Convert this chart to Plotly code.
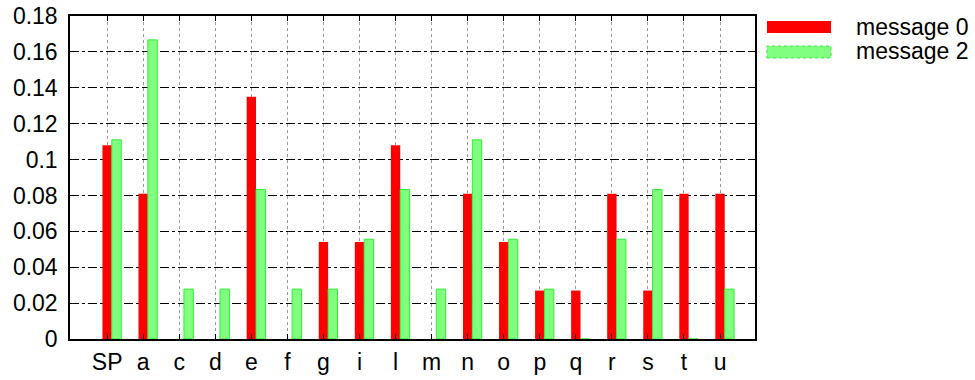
import plotly.graph_objects as go

# Letter frequencies for two messages
letters = ["SP", "a", "c", "d", "e", "f", "g", "i", "l", "m",
           "n", "o", "p", "q", "r", "s", "t", "u"]
message0 = [0.108, 0.081, 0.0, 0.0, 0.135, 0.0, 0.054, 0.054, 0.108, 0.0,
            0.081, 0.054, 0.027, 0.027, 0.081, 0.027, 0.081, 0.081]
message2 = [0.111, 0.1667, 0.0278, 0.0278, 0.0833, 0.0278, 0.0278, 0.0556, 0.0833, 0.0278,
            0.111, 0.0556, 0.0278, 0.0, 0.0556, 0.0833, 0.0, 0.0278]
series_names = ["message 0", "message 2"]
y_tick_vals = [0, 0.02, 0.04, 0.06, 0.08, 0.1, 0.12, 0.14, 0.16, 0.18]
y_tick_text = ["0", "0.02", "0.04", "0.06", "0.08", "0.1", "0.12", "0.14", "0.16", "0.18"]

FONT = "Liberation Sans, Arial, sans-serif"
FONT_SIZE = 23
RED = "#ff0000"
GREEN_FILL = "#80ff80"
GREEN_EDGE = "#33ee33"
BAR_W = 0.26

# Figure geometry in pixels
W, H = 975, 380
ML, MR, MT, MB = 70, 220, 16, 41
PW, PH = W - ML - MR, H - MT - MB


def px_x(x):
    return (x - ML) / PW


def px_y(y):
    return (H - MB - y) / PH


xpos = list(range(len(letters)))

fig = go.Figure()
fig.add_trace(go.Bar(
    x=xpos, y=message0, name=series_names[0],
    width=BAR_W, offset=-BAR_W / 2,
    marker=dict(color=RED, line=dict(width=0)),
    showlegend=False,
))
fig.add_trace(go.Bar(
    x=xpos, y=message2, name=series_names[1],
    width=BAR_W, offset=BAR_W / 2,
    marker=dict(color=GREEN_FILL, line=dict(color=GREEN_EDGE, width=1)),
    showlegend=False,
))

# Key drawn at the right, outside the plotting area
key_items = [(series_names[0], RED, RED, 0), (series_names[1], GREEN_FILL, GREEN_EDGE, 1)]
for i, (label, fill, edge, lw) in enumerate(key_items):
    top = 21 + i * 25
    fig.add_shape(type="rect", xref="paper", yref="paper",
                  x0=px_x(767), x1=px_x(831),
                  y0=px_y(top + 12), y1=px_y(top),
                  fillcolor=fill, line=dict(color=edge, width=lw, dash="dot"))
    fig.add_annotation(xref="paper", yref="paper",
                       x=px_x(971), y=px_y(27 + i * 24),
                       text=label, showarrow=False, xanchor="right", yanchor="middle",
                       font=dict(family=FONT, size=FONT_SIZE, color="black"))

fig.update_layout(
    width=W, height=H,
    margin=dict(l=ML, r=MR, t=MT, b=MB, autoexpand=False),
    paper_bgcolor="white", plot_bgcolor="white",
    barmode="overlay",
    font=dict(family=FONT, size=FONT_SIZE, color="black"),
    xaxis=dict(
        range=[-1.03, 17.97], automargin=False,
        tickmode="array", tickvals=xpos, ticktext=letters,
        showgrid=True, gridcolor="#999999", griddash="dot", gridwidth=1,
        showline=True, linecolor="black", linewidth=1.5, mirror="ticks",
        ticks="inside", ticklen=5, tickcolor="black",
        ticklabelstandoff=2,
        zeroline=False,
    ),
    yaxis=dict(
        range=[0, 0.18], automargin=False,
        tickmode="array", tickvals=y_tick_vals, ticktext=y_tick_text,
        showgrid=True, gridcolor="black", griddash="dashdot", gridwidth=1,
        showline=True, linecolor="black", linewidth=1.5, mirror="ticks",
        ticks="inside", ticklen=7, tickcolor="black",
        ticklabelstandoff=6,
        zeroline=False,
    ),
)

fig.write_html("out.html")
